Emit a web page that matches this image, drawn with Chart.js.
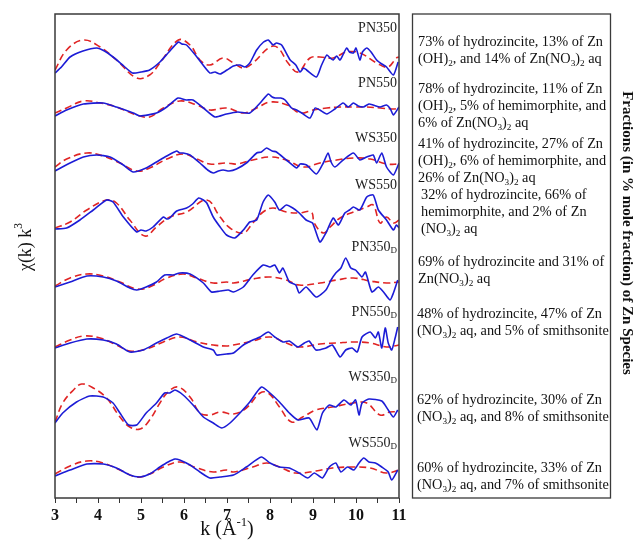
<!DOCTYPE html>
<html><head><meta charset="utf-8">
<script src="https://cdn.jsdelivr.net/npm/chart.js@4.4.0/dist/chart.umd.min.js"></script>
<style>html,body{margin:0;padding:0;background:#fff}#wrap{width:638px;height:540px;position:relative}</style>
</head><body><div id="wrap"><canvas id="c"></canvas></div>
<script>
// ---- data ----
const kTicks = [3,4,5,6,7,8,9,10,11];
const samples = ['PN350','PN550','WS350','WS550','PN350','PN550','WS350','WS550'];
const sampleSub = ['','','','','D','D','D','D'];
const stackOffset = [428,383,328,269,211,150,75,22];

const PN350_exp = [[3,-3],[3.15,3],[3.35,13],[3.65,19],[3.97,22],[4.15,19],[4.35,13],[4.6,4],[4.8,-3],[5.0,-2],[5.2,0],[5.44,8],[5.65,18],[5.87,28],[5.95,26],[6.06,25],[6.3,13],[6.6,-3],[6.72,-2],[6.84,-4],[7.0,0],[7.15,4],[7.3,5],[7.42,3],[7.53,7],[7.69,20],[7.85,28],[7.96,30],[8.07,25],[8.15,27],[8.27,25],[8.47,10],[8.6,5],[8.7,-2],[8.78,2],[8.85,0],[9.08,-7],[9.2,5],[9.32,15],[9.4,12],[9.47,10],[9.55,14],[9.63,10],[9.78,22],[9.85,18],[9.94,17],[10.0,22],[10.09,10],[10.15,18],[10.25,22],[10.35,18],[10.48,10],[10.6,6],[10.71,3],[10.87,-5],[10.98,8]];
const PN350_fit = [[3,0],[3.27,20],[3.66,30],[4.05,23],[4.43,10],[4.9,-8],[5.2,-5],[5.44,7],[5.87,30],[6.14,25],[6.37,10],[6.6,5],[6.91,12],[7.15,7],[7.38,2],[7.6,7],[8.0,23],[8.19,22],[8.42,7],[8.65,-2],[8.93,12],[9.16,13],[9.47,12],[9.78,18],[10.09,17],[10.48,7],[10.74,3],[10.94,12],[11,13]];

const PN550_exp = [[3,-1],[3.27,5],[3.66,11],[4.12,12],[4.43,8],[4.82,2],[4.98,-1],[5.36,2],[5.6,8],[5.86,17],[6.05,15],[6.21,15],[6.45,7],[6.72,-2],[6.99,1],[7.25,3],[7.53,2],[7.77,12],[7.96,21],[8.05,18],[8.12,17],[8.25,17],[8.35,15],[8.5,7],[8.62,5],[8.74,2],[8.93,-3],[9.05,7],[9.16,5],[9.32,1],[9.51,6],[9.7,12],[9.82,8],[9.94,12],[10.05,9],[10.17,8],[10.3,11],[10.4,10],[10.56,8],[10.71,10],[10.8,6],[10.87,0],[11.0,8]];
const PN550_fit = [[3,2],[3.27,7],[3.66,14],[4.05,12],[4.43,8],[4.9,0],[5.2,-2],[5.52,7],[5.9,14],[6.3,10],[6.6,5],[6.99,7],[7.38,2],[7.69,7],[8.0,13],[8.4,10],[8.7,2],[9.0,5],[9.32,7],[9.63,8],[9.94,8],[10.25,8],[10.56,7],[10.87,6],[11.0,7]];

const WS350_exp = [[3,-1],[3.35,7],[3.66,13],[3.97,15],[4.28,13],[4.59,5],[4.82,-2],[5.12,2],[5.36,8],[5.6,14],[5.83,19],[5.9,17],[5.98,17],[6.14,15],[6.37,7],[6.55,0],[6.68,-3],[6.8,-1],[6.91,0],[7.05,-1],[7.22,1],[7.45,7],[7.69,17],[7.8,18],[7.92,22],[8.05,19],[8.15,18],[8.38,10],[8.62,2],[8.7,6],[8.85,5],[9.08,-4],[9.24,7],[9.35,17],[9.42,8],[9.51,3],[9.7,10],[9.94,17],[10.09,10],[10.25,13],[10.4,15],[10.48,7],[10.6,17],[10.71,3],[10.87,-5],[11.0,7]];
const WS350_fit = [[3,3],[3.27,11],[3.74,17],[4.12,14],[4.51,7],[4.9,-1],[5.2,2],[5.6,11],[5.98,16],[6.3,11],[6.6,6],[6.99,7],[7.22,6],[7.6,10],[8.0,13],[8.38,10],[8.78,3],[9.16,7],[9.55,10],[9.94,12],[10.33,11],[10.71,6],[11,6]];

const WS550_exp = [[3,0],[3.27,1],[3.58,9],[3.89,19],[4.2,29],[4.35,27],[4.59,12],[4.9,-3],[5.0,-1],[5.12,-2],[5.28,2],[5.52,12],[5.6,10],[5.67,11],[5.83,18],[6.06,21],[6.2,25],[6.34,31],[6.45,29],[6.53,26],[6.68,12],[6.84,2],[6.99,-6],[7.18,-9],[7.38,-1],[7.53,7],[7.69,9],[7.84,27],[7.96,34],[8.11,27],[8.22,19],[8.38,24],[8.53,21],[8.68,16],[8.84,9],[8.99,6],[9.16,-13],[9.3,-4],[9.47,11],[9.59,4],[9.74,16],[9.85,19],[9.94,22],[10.09,19],[10.25,32],[10.4,34],[10.52,19],[10.71,9],[10.87,-1],[10.94,4],[11.0,1]];
const WS550_fit = [[3,1],[3.35,7],[3.74,19],[4.2,29],[4.43,26],[4.74,9],[5.09,-7],[5.36,2],[5.67,12],[6.06,17],[6.53,29],[6.84,12],[7.07,1],[7.38,-4],[7.6,6],[7.84,17],[8.07,21],[8.38,17],[8.68,16],[8.96,17],[9.03,6],[9.24,-4],[9.4,2],[9.63,11],[9.94,17],[10.25,22],[10.4,24],[10.56,6],[10.71,12],[10.87,6],[11.0,9]];

const PN350D_exp = [[3,0],[3.35,5],[3.74,11],[4.12,10],[4.43,6],[4.74,-1],[4.9,-3],[5.12,0],[5.36,5],[5.55,12],[5.75,12],[5.9,14],[6.14,13],[6.45,4],[6.64,-5],[6.84,-4],[7.03,-3],[7.15,-5],[7.38,0],[7.6,12],[7.84,22],[8.0,20],[8.11,22],[8.22,14],[8.3,19],[8.45,5],[8.6,2],[8.68,-6],[8.84,0],[9.07,-10],[9.3,-3],[9.42,7],[9.53,14],[9.65,19],[9.76,29],[9.88,19],[9.99,17],[10.14,10],[10.22,15],[10.37,-5],[10.52,0],[10.64,-5],[10.79,-13],[10.87,-6],[10.97,7]];
const PN350D_fit = [[3,1],[3.35,9],[3.74,13],[4.12,11],[4.51,5],[4.9,-2],[5.2,0],[5.6,9],[5.98,13],[6.3,9],[6.68,4],[6.99,5],[7.15,4],[7.6,8],[8.0,10],[8.38,7],[8.68,2],[9.16,4],[9.55,7],[9.94,9],[10.33,6],[10.71,4],[11,5]];

const PN550D_exp = [[3,0],[3.35,5],[3.74,9],[4.12,8],[4.43,4],[4.74,-4],[5.05,-2],[5.36,5],[5.6,10],[5.83,14],[6.14,8],[6.45,1],[6.68,-2],[6.76,-7],[6.99,-6],[7.15,-5],[7.38,3],[7.6,8],[7.77,11],[7.96,16],[8.11,11],[8.3,6],[8.45,7],[8.65,1],[8.8,5],[8.91,7],[9.07,-2],[9.3,0],[9.45,3],[9.63,-9],[9.76,-2],[9.91,0],[10.03,-4],[10.14,11],[10.33,16],[10.45,10],[10.52,16],[10.6,0],[10.68,20],[10.75,5],[10.83,-2],[10.91,10],[10.97,21]];
const PN550D_fit = [[3,1],[3.35,8],[3.66,12],[4.05,10],[4.43,3],[4.74,-3],[5.12,-1],[5.52,6],[5.9,11],[6.3,6],[6.68,3],[6.99,2],[7.15,3],[7.6,7],[8.0,11],[8.38,5],[8.68,1],[9.16,4],[9.55,5],[9.94,6],[10.33,5],[10.71,1],[11,3]];

const WS350D_exp = [[3,0],[3.18,10],[3.5,21],[3.81,27],[4.12,26],[4.35,20],[4.51,10],[4.71,-2],[4.9,-2],[5.12,10],[5.36,20],[5.55,30],[5.67,30],[5.79,33],[5.98,28],[6.21,18],[6.45,6],[6.68,0],[6.88,-5],[7.07,0],[7.3,10],[7.53,21],[7.8,36],[8.0,30],[8.22,21],[8.45,10],[8.65,3],[8.91,5],[9.09,-7],[9.22,10],[9.38,18],[9.53,16],[9.72,23],[9.88,18],[9.99,23],[10.07,8],[10.14,20],[10.3,24],[10.6,22],[10.75,13],[10.87,6],[10.97,13]];
const WS350D_fit = [[3,1],[3.18,20],[3.43,33],[3.62,39],[3.89,35],[4.2,25],[4.51,6],[4.74,-4],[4.98,-6],[5.2,3],[5.44,20],[5.63,31],[5.86,36],[6.14,26],[6.37,10],[6.6,8],[6.84,11],[7.15,9],[7.45,15],[7.77,30],[7.96,30],[8.22,16],[8.5,1],[8.76,6],[9.07,13],[9.45,16],[9.94,20],[10.25,20],[10.56,8],[10.79,11],[11,11]];

const WS550D_exp = [[3,0],[3.35,6],[3.74,12],[4.12,12],[4.43,8],[4.74,1],[4.98,-1],[5.2,2],[5.44,9],[5.63,14],[5.79,17],[5.9,16],[6.14,11],[6.37,4],[6.6,-2],[6.84,-1],[7.15,1],[7.45,9],[7.8,19],[8.0,13],[8.22,9],[8.45,8],[8.68,3],[8.88,-2],[9.03,3],[9.22,-2],[9.38,9],[9.53,13],[9.65,4],[9.8,9],[9.95,6],[10.07,13],[10.18,18],[10.3,14],[10.45,13],[10.6,9],[10.75,4],[10.83,-4],[10.97,6]];
const WS550D_fit = [[3,2],[3.35,10],[3.74,15],[4.12,13],[4.51,6],[4.9,-1],[5.2,2],[5.52,9],[5.9,14],[6.3,8],[6.68,4],[6.99,6],[7.15,4],[7.6,9],[7.92,13],[8.22,9],[8.6,3],[9.07,5],[9.45,8],[9.94,9],[10.33,8],[10.71,3],[11,6]];

const expSeries = [PN350_exp,PN550_exp,WS350_exp,WS550_exp,PN350D_exp,PN550D_exp,WS350D_exp,WS550D_exp];
const fitSeries = [PN350_fit,PN550_fit,WS350_fit,WS550_fit,PN350D_fit,PN550D_fit,WS350D_fit,WS550D_fit];

const fractionText = [
  ['73% of hydrozincite, 13% of Zn','(OH)_2, and 14% of Zn(NO_3)_2 aq'],
  ['78% of hydrozincite, 11% of Zn','(OH)_2, 5% of hemimorphite, and','6% of Zn(NO_3)_2 aq'],
  ['41% of hydrozincite, 27% of Zn','(OH)_2, 6% of hemimorphite, and','26% of Zn(NO_3)_2 aq'],
  ['32% of hydrozincite, 66% of','hemimorphite, and 2% of Zn','(NO_3)_2 aq'],
  ['69% of hydrozincite and 31% of','Zn(NO_3)_2 aq'],
  ['48% of hydrozincite, 47% of Zn','(NO_3)_2 aq, and 5% of smithsonite'],
  ['62% of hydrozincite, 30% of Zn','(NO_3)_2 aq, and 8% of smithsonite'],
  ['60% of hydrozincite, 33% of Zn','(NO_3)_2 aq, and 7% of smithsonite']
];

// ---- layout (not data) ----
const labelLift = [42,32,32,44,40,36,46,33];
const blockTop = [42,89,144,195,262,314,400,468];
const blockX = [418,418,418,421,418,417,417,417];
const lineGap = 17.3;
const SERIF = '"Liberation Serif","Times New Roman",serif';

function drawRich(ctx, text, x, y, size, align, weight) {
  weight = weight || '';
  const segs = [];
  for (let i = 0; i < text.length; i++) {
    const c = text[i];
    if ((c === '_' || c === '^') && i + 1 < text.length) {
      segs.push({t: text[i+1], m: c}); i++;
    } else {
      if (segs.length && segs[segs.length-1].m === '') segs[segs.length-1].t += c;
      else segs.push({t: c, m: ''});
    }
  }
  const sub = Math.round(size * 0.64 * 10) / 10;
  let w = 0;
  segs.forEach(s => {
    ctx.font = weight + ' ' + (s.m ? sub : size) + 'px ' + SERIF;
    s.w = ctx.measureText(s.t).width; w += s.w;
  });
  let cx = align === 'right' ? x - w : (align === 'center' ? x - w / 2 : x);
  ctx.textAlign = 'left';
  ctx.textBaseline = 'middle';
  segs.forEach(s => {
    ctx.font = weight + ' ' + (s.m ? sub : size) + 'px ' + SERIF;
    const dy = s.m === '_' ? size * 0.28 : (s.m === '^' ? -size * 0.38 : 0);
    ctx.fillText(s.t, cx, y + dy);
    cx += s.w;
  });
}

const overlay = {
  id: 'overlay',
  afterDraw(chart) {
    const ctx = chart.ctx, a = chart.chartArea, ys = chart.scales.y;
    ctx.save();
    ctx.strokeStyle = '#3a3a3a'; ctx.lineWidth = 1.5;
    ctx.strokeRect(a.left, a.top, a.right - a.left, a.bottom - a.top);
    ctx.fillStyle = '#222';
    samples.forEach((s, i) => {
      const y = ys.getPixelForValue(stackOffset[i] + labelLift[i]);
      drawRich(ctx, s + (sampleSub[i] ? '_' + sampleSub[i] : ''), a.right - 2, y, 14, 'right');
    });
    // right box
    ctx.strokeStyle = '#3a3a3a'; ctx.lineWidth = 1.3;
    ctx.strokeRect(412.5, a.top, 198, a.bottom - a.top);
    ctx.fillStyle = '#111';
    fractionText.forEach((lines, b) => {
      lines.forEach((ln, j) => drawRich(ctx, ln, blockX[b], blockTop[b] + j * lineGap, 14.3, 'left'));
    });
    // right title
    ctx.save();
    ctx.translate(627, 233);
    ctx.rotate(Math.PI / 2);
    ctx.font = 'bold 15px ' + SERIF;
    ctx.textAlign = 'center'; ctx.textBaseline = 'middle';
    ctx.fillText('Fractions (in % mole fraction) of Zn Species', 0, 0);
    ctx.restore();
    // y label
    ctx.save();
    ctx.translate(26, 247);
    ctx.rotate(-Math.PI / 2);
    drawRich(ctx, '\u03c7(k) k^3', 0, 0, 18, 'center');
    ctx.restore();
    // x label
    drawRich(ctx, 'k (\u00c5^-^1)', (a.left + a.right) / 2, 530, 20, 'center');
    ctx.restore();
  }
};

const datasets = [];
samples.forEach((s, i) => {
  datasets.push({
    label: s + sampleSub[i] + ' data',
    data: expSeries[i].map(p => ({x: p[0], y: p[1] + stackOffset[i]})),
    borderColor: '#1c1cd6', borderWidth: 1.6, pointRadius: 0, tension: 0.2, fill: false
  });
  datasets.push({
    label: s + sampleSub[i] + ' fit',
    data: fitSeries[i].map(p => ({x: p[0], y: p[1] + stackOffset[i]})),
    borderColor: '#e02424', borderWidth: 1.6, borderDash: [7, 4], pointRadius: 0, tension: 0.4, fill: false
  });
});

new Chart(document.getElementById('c'), {
  type: 'line',
  data: { datasets },
  options: {
    responsive: true, maintainAspectRatio: false, animation: false,
    devicePixelRatio: 1,
    layout: { padding: { left: 55, right: 239, top: 14, bottom: 0 } },
    plugins: { legend: { display: false }, tooltip: { enabled: false } },
    scales: {
      x: {
        type: 'linear', min: 3, max: 11,
        ticks: {
          stepSize: 0.5, autoSkip: false, maxRotation: 0, padding: 3,
          color: '#111', font: { family: SERIF, size: 16, weight: 'bold' },
          callback: v => (kTicks.includes(v) ? String(v) : '')
        },
        grid: { drawOnChartArea: false, drawTicks: true, tickLength: 5, color: '#333', lineWidth: 1 },
        border: { display: false },
        afterFit: s => { s.height = 42; }
      },
      y: { display: false, min: 0, max: 484 }
    }
  },
  plugins: [overlay]
});
</script>
</body></html>
